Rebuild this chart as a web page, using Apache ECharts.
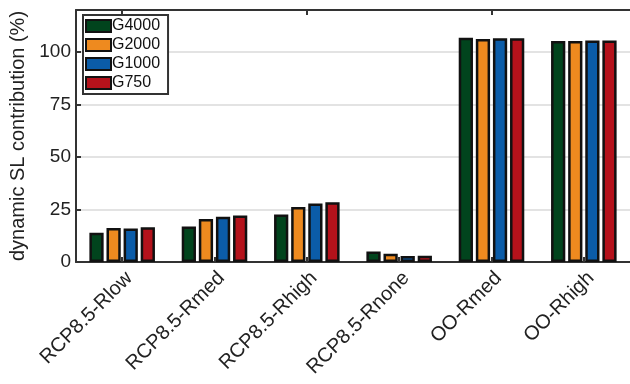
<!DOCTYPE html>
<html>
<head>
<meta charset="utf-8">
<script src="https://cdn.jsdelivr.net/npm/echarts@6/dist/echarts.min.js"></script>
<style>html,body{margin:0;padding:0;background:#fff;}#c{width:630px;height:384px;}</style>
</head>
<body>
<div id="c"></div>
<script>
const categories = ['RCP8.5-Rlow', 'RCP8.5-Rmed', 'RCP8.5-Rhigh', 'RCP8.5-Rnone', 'OO-Rmed', 'OO-Rhigh'];
const seriesNames = ['G4000', 'G2000', 'G1000', 'G750'];
const G4000 = [13.9, 16.9, 22.6, 5.0, 106.8, 105.2];
const G2000 = [16.2, 20.5, 26.2, 3.9, 106.2, 105.2];
const G1000 = [16.0, 21.6, 27.8, 2.8, 106.6, 105.5];
const G750  = [16.5, 22.1, 28.4, 3.0, 106.6, 105.5];
const yTicks = [0, 25, 50, 75, 100];
const colors = ['#01441d', '#ee8a1f', '#0b5ca8', '#b4121b'];

const values = [G4000, G2000, G1000, G750];
const font = 'Liberation Sans, Arial, Helvetica, sans-serif';
const chart = echarts.init(document.getElementById('c'));
chart.setOption({
  animation: false,
  textStyle: { fontFamily: font },
  grid: { left: 76, top: 10, width: 566, height: 252, containLabel: false },
  legend: {
    left: 83, top: 15, orient: 'vertical', icon: 'rect',
    itemWidth: 25, itemHeight: 12, itemGap: 3,
    padding: [3, 8, 3, 2],
    borderColor: '#333', borderWidth: 2,
    backgroundColor: '#fff',
    textStyle: { fontSize: 16, color: '#111', fontFamily: font, padding: [0, 0, 0, -4] },
    data: seriesNames
  },
  xAxis: [{
    type: 'category', data: categories, position: 'bottom',
    axisLine: { lineStyle: { color: '#333', width: 2 } },
    axisTick: { show: true, inside: true, alignWithLabel: true, length: 5, lineStyle: { color: '#333', width: 2 } },
    axisLabel: { rotate: 45, fontSize: 20, color: '#222', margin: 6, verticalAlign: 'top', fontFamily: font },
    splitLine: { show: false }
  }, {
    type: 'category', data: categories, position: 'top',
    axisLine: { show: true, onZero: false, lineStyle: { color: '#333', width: 2 } },
    axisTick: { show: true, inside: true, alignWithLabel: true, length: 5, lineStyle: { color: '#333', width: 2 } },
    axisLabel: { show: false }
  }],
  yAxis: {
    type: 'value', min: 0, max: 120, interval: 25,
    name: 'dynamic SL contribution (%)', nameLocation: 'middle', nameGap: 44,
    nameTextStyle: { fontSize: 20, color: '#222', fontFamily: font },
    axisLine: { show: true, lineStyle: { color: '#333', width: 2 } },
    axisTick: { show: true, inside: true, length: 5, lineStyle: { color: '#333', width: 2 } },
    axisLabel: {
      fontSize: 19, color: '#222', margin: 5, fontFamily: font,
      formatter: v => yTicks.includes(v) ? String(v) : ''
    },
    splitLine: { show: true, lineStyle: { color: '#e3e3e3', width: 2 } }
  },
  series: seriesNames.map((n, i) => ({
    name: n, type: 'bar', xAxisIndex: 0, data: values[i],
    barGap: '20%', barCategoryGap: '29%',
    itemStyle: { color: colors[i], borderColor: '#111', borderWidth: 2.5 }
  }))
});
</script>
</body>
</html>
